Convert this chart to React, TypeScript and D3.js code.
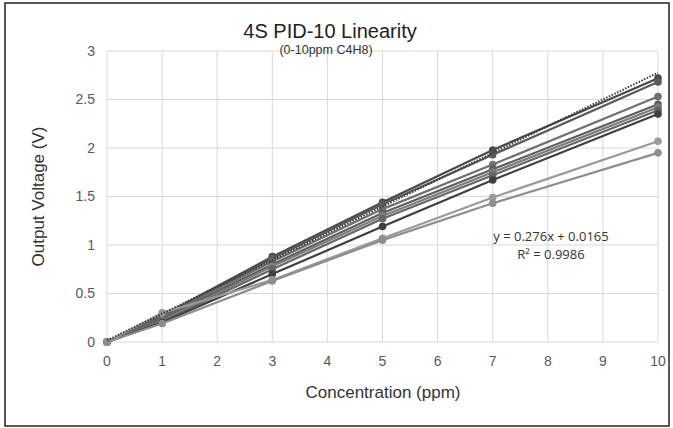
import React from "react";
import * as d3 from "d3";

// concentrations (ppm) where readings were taken
const concentrations = [0, 1, 3, 5, 7, 10];

// output voltage per sensor
const sensorA = [0, 0.27, 0.88, 1.44, 1.98, 2.72];
const sensorB = [0, 0.26, 0.86, 1.42, 1.93, 2.68];
const sensorC = [0, 0.25, 0.83, 1.37, 1.83, 2.53];
const sensorD = [0, 0.24, 0.8, 1.33, 1.78, 2.45];
const sensorE = [0, 0.22, 0.78, 1.3, 1.75, 2.42];
const sensorF = [0, 0.21, 0.75, 1.27, 1.72, 2.39];
const sensorG = [0, 0.2, 0.7, 1.19, 1.67, 2.35];
const sensorH = [0, 0.3, 0.64, 1.07, 1.49, 2.07];
const sensorI = [0, 0.19, 0.63, 1.05, 1.43, 1.95];

const seriesColors = ["#4a4a4a", "#5a5a5a", "#707070", "#5e5e5e", "#7c7c7c", "#666666", "#3f3f3f", "#9a9a9a", "#8e8e8e"];

const xTicks = [0, 1, 2, 3, 4, 5, 6, 7, 8, 9, 10];
const yTicks = [0, 0.5, 1, 1.5, 2, 2.5, 3];

// linear trendline from the chart
const slope = 0.276;
const intercept = 0.0165;
const rSquared = "0.9986";

const W = 673;
const H = 428;
const plot = { left: 107, right: 658, top: 51, bottom: 342 };
const font = "'Liberation Sans', Arial, sans-serif";

export default function App() {
  const allSeries = [sensorA, sensorB, sensorC, sensorD, sensorE, sensorF, sensorG, sensorH, sensorI];

  const x = d3.scaleLinear().domain([0, 10]).range([plot.left, plot.right]);
  const y = d3.scaleLinear().domain([0, 3]).range([plot.bottom, plot.top]);

  const line = d3
    .line<number>()
    .x((d, i) => x(concentrations[i]))
    .y((d) => y(d));

  const trend = d3
    .line<number>()
    .x((d) => x(d))
    .y((d) => y(slope * d + intercept));

  return (
    <div style={{ position: "fixed", left: 0, top: 0 }}>
      <svg width={W} height={H} style={{ display: "block", background: "#fff" }}>
        <rect x={5} y={3} width={664} height={423} fill="#fff" stroke="#222" strokeWidth={1.5} />

        {/* grid */}
        {yTicks.map((t) => (
          <line key={"gy" + t} x1={plot.left} x2={plot.right} y1={y(t)} y2={y(t)} stroke="#d9d9d9" strokeWidth={1} />
        ))}
        {xTicks.map((t) => (
          <line key={"gx" + t} x1={x(t)} x2={x(t)} y1={plot.top} y2={plot.bottom} stroke="#d9d9d9" strokeWidth={1} />
        ))}

        {/* tick labels */}
        {yTicks.map((t) => (
          <text key={"ty" + t} x={plot.left - 12} y={y(t)} dy="0.35em" textAnchor="end" fontFamily={font} fontSize={14} fill="#595959">
            {t}
          </text>
        ))}
        {xTicks.map((t) => (
          <text key={"tx" + t} x={x(t)} y={plot.bottom + 24} textAnchor="middle" fontFamily={font} fontSize={14} fill="#595959">
            {t}
          </text>
        ))}

        {/* series */}
        {allSeries.map((s, i) => (
          <g key={"s" + i}>
            <path d={line(s) || ""} fill="none" stroke={seriesColors[i]} strokeWidth={2.2} />
            {s.map((v, j) => (
              <circle key={j} cx={x(concentrations[j])} cy={y(v)} r={3.8} fill={seriesColors[i]} />
            ))}
          </g>
        ))}

        {/* trendline */}
        <path d={trend([0, 10]) || ""} fill="none" stroke="#3a3a3a" strokeWidth={2} strokeDasharray="1.5 1.5" />

        {/* titles */}
        <text x={330} y={38} textAnchor="middle" fontFamily={font} fontSize={20} fill="#222">
          4S PID-10 Linearity
        </text>
        <text x={326} y={54} textAnchor="middle" fontFamily={font} fontSize={12.5} fill="#333">
          (0-10ppm C4H8)
        </text>
        <text x={383} y={398} textAnchor="middle" fontFamily={font} fontSize={17} fill="#333">
          Concentration (ppm)
        </text>
        <text
          transform={`translate(44, ${(plot.top + plot.bottom) / 2}) rotate(-90)`}
          textAnchor="middle"
          fontFamily={font}
          fontSize={17}
          fill="#333"
        >
          Output Voltage (V)
        </text>

        {/* trendline equation */}
        <text x={551} y={241} textAnchor="middle" fontFamily="'Open Sans', sans-serif" fontSize={13} fill="#333">
          {`y = ${slope}x + ${intercept}`}
        </text>
        <text x={551} y={259} textAnchor="middle" fontFamily="'Open Sans', sans-serif" fontSize={13} fill="#333">
          {`R² = ${rSquared}`}
        </text>
      </svg>
    </div>
  );
}
